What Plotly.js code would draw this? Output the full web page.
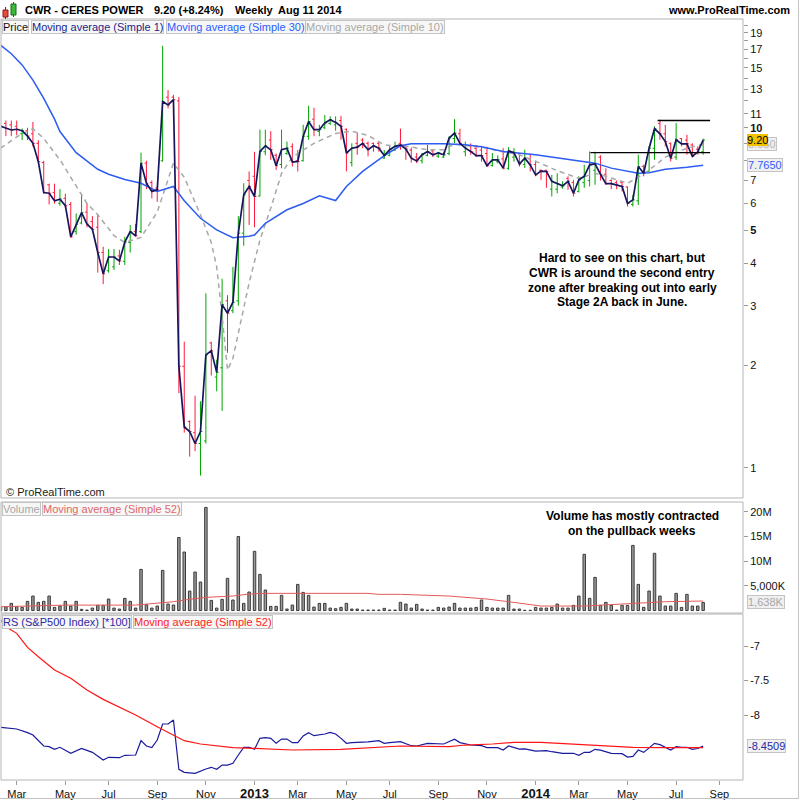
<!DOCTYPE html>
<html><head><meta charset="utf-8">
<script src="https://cdn.plot.ly/plotly-3.0.1.min.js"></script>
<style>html,body{margin:0;padding:0;background:#fff}#chart{width:800px;height:800px}</style>
</head><body><div id="chart"></div>
<script>
// ---- weekly bars, first week Mon 13 Feb 2012, last week Mon 11 Aug 2014 ----
const firstWeek = [2012, 1, 13];
const open = [10.2,10.3,10.2,10.1,9.6,9.8,9.6,9.0,7.9,6.8,
 6.45,6.0,6.2,5.95,4.95,5.25,5.65,5.3,5.1,4.3,
 3.8,3.9,4.2,4.05,4.6,4.95,4.95,7.87,6.9,6.65,
 8.0,12.3,12.3,12.0,1.99,1.37,1.27,1.18,1.2,2.33,
 1.85,1.97,3.1,2.9,3.1,4.9,7.0,7.2,6.3,8.5,
 9.2,8.3,7.8,8.4,8.8,8.0,8.0,9.44,10.6,9.75,
 10.0,10.3,10.2,10.5,9.9,7.9,9.0,9.2,9.0,9.0,
 9.0,8.15,8.3,8.6,9.0,8.8,8.6,8.2,8.0,8.3,
 8.55,8.25,8.2,8.4,9.3,9.6,8.5,8.85,8.7,8.6,
 8.4,7.75,7.95,8.1,7.6,8.2,8.4,7.8,8.1,7.8,
 7.5,7.5,6.6,6.6,6.7,7.1,6.9,6.5,6.9,7.0,
 7.5,8.2,7.3,7.0,6.9,6.9,6.7,5.95,6.1,7.7,
 7.45,8.7,10.3,9.6,9.0,8.2,9.3,9.2,8.9,8.65,
 8.5];
const high = [10.5,10.5,10.5,10.5,9.95,10.0,10.4,9.2,8.0,6.85,
 6.85,6.6,6.4,6.05,5.6,6.4,6.0,5.5,5.55,4.47,
 4.4,4.4,4.38,4.78,5.18,5.21,8.45,8.0,7.0,6.72,
 17.4,12.9,12.5,12.3,2.35,1.38,1.63,1.57,3.26,2.35,
 2.08,3.6,3.22,3.9,5.5,6.87,7.44,8.5,9.87,9.87,
 9.77,8.4,9.87,9.11,9.0,8.6,10.2,11.6,11.45,10.2,
 10.9,10.8,10.8,10.84,9.95,9.0,9.65,9.33,9.11,9.05,
 9.1,8.6,8.85,9.1,9.94,8.85,8.75,8.43,8.43,8.91,
 8.6,8.5,8.5,9.44,10.6,9.94,9.11,9.0,8.9,8.85,
 8.8,8.43,8.3,8.71,8.77,8.71,8.43,8.62,8.33,8.0,
 7.55,7.52,7.27,7.35,6.96,7.2,7.03,7.2,7.78,8.52,
 8.5,8.3,7.6,7.05,7.0,6.95,6.72,6.35,8.33,7.78,
 8.82,10.1,10.56,10.2,9.05,10.33,9.33,9.54,9.0,8.82,
 9.3];
const low = [9.9,9.45,9.45,9.5,9.2,9.2,8.8,7.85,6.4,5.95,
 5.98,5.9,5.8,4.75,4.85,5.2,5.1,4.95,3.75,3.47,
 3.75,3.82,3.95,3.95,4.3,4.78,4.9,6.6,6.2,6.06,
 7.95,11.4,10.6,1.66,1.27,1.08,1.12,0.95,1.18,1.87,
 1.68,1.47,2.18,2.85,3.0,4.5,5.18,5.1,6.28,8.3,
 8.05,7.52,7.6,8.33,7.69,7.44,7.96,9.22,9.44,9.44,
 9.9,10.2,9.8,9.22,7.44,7.69,8.33,8.71,8.24,8.5,
 8.5,8.1,8.25,8.55,8.62,8.05,7.9,7.87,7.85,8.25,
 8.2,8.15,8.15,8.3,9.0,8.91,8.24,8.33,8.2,7.95,
 7.69,7.69,7.85,7.55,7.52,7.95,7.69,7.61,7.44,7.2,
 7.03,6.66,6.28,6.42,6.62,6.57,6.28,6.45,6.66,6.72,
 6.8,7.0,6.8,6.6,6.6,6.5,5.87,5.87,5.93,7.2,
 7.44,8.05,9.22,8.82,7.96,8.05,8.82,8.33,8.2,8.33,
 8.33];
const close = [10.1,9.95,9.85,9.9,9.8,9.45,9.0,7.95,6.45,6.42,
 6.1,6.17,5.9,4.78,5.2,5.63,5.21,5.03,4.3,3.72,
 4.17,4.17,4.06,4.61,4.95,4.81,7.87,6.87,6.5,6.57,
 11.95,11.67,12.09,1.99,1.32,1.28,1.18,1.28,2.15,2.21,
 1.91,3.02,2.85,3.07,4.9,6.35,6.72,6.28,8.52,8.85,
 8.62,7.73,8.62,8.71,7.93,7.96,9.44,10.43,9.87,9.87,
 10.33,10.56,10.37,10.1,8.43,8.71,8.77,9.0,8.62,8.85,
 8.71,8.29,8.62,8.82,8.91,8.66,8.14,7.99,8.33,8.52,
 8.33,8.43,8.33,9.33,9.65,9.0,8.71,8.52,8.28,8.28,
 7.73,8.05,8.05,7.61,8.55,8.45,7.82,8.14,7.78,7.27,
 7.46,7.44,6.96,6.85,6.75,6.96,6.42,7.03,7.2,7.78,
 7.83,7.3,6.85,6.85,6.77,6.72,5.99,6.14,7.69,7.35,
 8.71,9.94,9.6,9.11,8.14,9.22,8.97,8.97,8.24,8.5,
 9.2];
// weekly volume, millions of shares
const volumeM = [0.8,0.78,1.45,0.78,0.64,1.86,2.94,1.66,1.86,2.94,
 0.64,0.91,1.86,0.91,1.86,0.24,0.1,0.5,1.05,1.05,
 2.33,0.5,0.3,2.47,1.86,0.5,8.34,1.18,0.5,0.91,
 8.14,1.32,1.11,14.8,11.86,3.95,7.8,5.78,20.9,2.06,
 0.5,2.26,6.52,2.13,15.0,1.45,3.75,12.0,7.33,4.16,
 0.84,0.84,3.07,0.3,1.11,5.3,3.68,3.07,0.71,1.45,
 1.45,0.5,0.37,0.64,1.45,0.3,0.3,0.1,0.1,0.1,
 0.1,0.44,0.1,0.1,1.66,1.32,0.5,1.25,0.3,0.1,
 0.1,0.64,0.5,0.71,1.45,0.5,0.5,0.5,0.64,2.13,
 0.64,0.5,0.5,0.5,3.07,0.3,0.3,0.05,0.05,0.64,
 0.5,0.5,0.64,1.32,0.5,0.5,1.05,2.94,11.4,2.47,
 6.72,1.05,1.66,1.05,0.1,1.05,1.05,13.2,5.3,0.64,
 3.95,11.6,2.94,0.91,0.91,3.48,0.64,3.28,0.91,0.91,
 1.638];
// moving averages (week index, value)
const ma30Idx = [0,2,4,6,8,10,11,14,18,20,23,26,29,32,34,37,40,43,46,47,49,53,56,59,62,64,67,71,74,76,82,86,89,93,99,105,110,113,118,120,123,127,130];
const ma30Val = [17.5,16.5,15.3,13.8,12.2,10.6,9.75,8.45,7.55,7.3,7.05,6.87,6.5,6.72,6.1,5.42,5.01,4.75,4.8,4.84,5.24,5.74,5.99,6.31,6.11,6.72,7.44,8.28,8.85,8.97,8.97,8.91,8.8,8.52,8.33,8.09,7.87,7.61,7.35,7.38,7.55,7.65,7.765];
const ma10Idx = [0,3,6,8,11,14,16,18,21,23,26,29,32,34,37,39,40,41,42,43,44,45,46,48,50,52,54,58,62,65,68,71,75,79,82,84,87,90,92,96,100,103,107,110,113,116,118,121,123,127,130];
const ma10Val = [8.71,9.4,9.94,9.3,8.05,6.72,5.99,5.55,4.82,4.6,4.76,5.65,7.87,7.15,5.55,4.6,3.9,2.8,1.94,2.1,2.49,3.0,3.5,4.68,5.8,7.35,8.2,9.0,9.62,9.77,9.5,8.9,8.82,8.62,8.62,8.95,8.85,8.72,8.55,8.33,7.85,7.48,7.1,7.35,7.12,6.87,7.15,7.72,8.2,8.71,8.95];
const volMaIdx = [0,6,12,25,29,32,34,37,38,43,46,49,68,70,74,83,86,90,94,100,108,112,117,123,130];
const volMaVal = [0.77,0.9,1.1,1.1,1.45,1.79,2.13,2.47,2.67,2.94,3.35,3.48,3.48,3.28,3.28,2.94,2.67,2.33,1.79,0.91,0.91,1.11,1.45,1.79,1.93];
// relative strength vs S&P500 (*100) and its 52-week average
const rsIdx = [0,3,5,6,8,9,10,11,13,15,17,19,20,22,23,25,26,27,28,29,30,31,32,33,34,35,36,38,39,40,41,42,43,44,45,46,47,48,49,50,51,52,53,54,55,56,57,58,59,60,61,62,63,64,65,66,68,70,71,72,74,76,77,79,82,84,85,87,89,90,92,93,94,96,97,99,101,102,104,106,107,108,109,110,111,113,115,116,117,118,119,121,122,124,125,126,127,128,129,130];
const rsVal = [-8.178,-8.203,-8.256,-8.29,-8.449,-8.459,-8.497,-8.468,-8.555,-8.483,-8.541,-8.652,-8.613,-8.619,-8.584,-8.58,-8.372,-8.449,-8.473,-8.362,-8.13,-8.13,-8.072,-8.787,-8.831,-8.84,-8.845,-8.783,-8.758,-8.787,-8.725,-8.725,-8.7,-8.58,-8.468,-8.468,-8.497,-8.338,-8.329,-8.338,-8.41,-8.348,-8.348,-8.401,-8.401,-8.304,-8.256,-8.3,-8.29,-8.275,-8.251,-8.275,-8.338,-8.41,-8.401,-8.401,-8.39,-8.372,-8.41,-8.4,-8.387,-8.445,-8.449,-8.41,-8.42,-8.352,-8.4,-8.435,-8.445,-8.473,-8.473,-8.507,-8.449,-8.493,-8.49,-8.522,-8.515,-8.532,-8.555,-8.555,-8.584,-8.541,-8.541,-8.497,-8.51,-8.555,-8.56,-8.609,-8.6,-8.507,-8.541,-8.41,-8.43,-8.507,-8.459,-8.468,-8.468,-8.497,-8.485,-8.4509];
const rsMaIdx = [0,1,3,5,7,10,13,16,19,22,25,29,32,34,37,40,43,47,51,54,63,68,74,83,86,91,95,100,105,111,117,123,130];
const rsMaVal = [-6.62,-6.72,-6.816,-7.019,-7.155,-7.348,-7.468,-7.638,-7.773,-7.889,-8.0,-8.169,-8.29,-8.372,-8.42,-8.449,-8.473,-8.483,-8.497,-8.507,-8.497,-8.473,-8.449,-8.459,-8.435,-8.42,-8.396,-8.396,-8.42,-8.449,-8.468,-8.473,-8.473];
// hand-drawn resistance lines
const resistLevel = [8.45, 10.5];
const resistStart = ['2014-03-18', '2014-06-13'];
const resistEnd = ['2014-08-20', '2014-08-20'];
// axis ticks
const monthTickDates = ['2012-03-05','2012-05-07','2012-07-02','2012-09-03','2012-11-05','2013-01-07','2013-03-04','2013-05-06','2013-07-01','2013-09-02','2013-11-04','2014-01-06','2014-03-03','2014-05-05','2014-07-07','2014-09-01'];
const monthTickText = ['Mar','May','Jul','Sep','Nov','<span style="font-size:13px;font-weight:bold">2013</span>','Mar','May','Jul','Sep','Nov','<span style="font-size:13px;font-weight:bold">2014</span>','Mar','May','Jul','Sep'];
const priceTicks = [1,2,3,4,5,6,7,8,9,10,11,12,13,14,15,16,17,18,19,20];
const priceTickText = ['1','2','3','4','<b>5</b>','6','7','','','<b>10</b>','11','','13','','15','','17','','19',''];
const volTicks = [5,10,15,20];
const volTickText = ['5,000K','10M','15M','20M'];
const rsTicks = [-8,-7.5,-7];
const rsTickText = ['-8','-7.5','-7'];

const weeks = close.map((_, k) => {
  const d = new Date(Date.UTC(firstWeek[0], firstWeek[1], firstWeek[2]));
  d.setUTCDate(d.getUTCDate() + 7 * k);
  return d.toISOString().slice(0, 10);
});
const at = idx => idx.map(k => weeks[k]);

const FONT = 'Liberation Sans, Arial, sans-serif';
const PX = x => (x - 1) / 742;
const PY = y => (780 - y) / 761;
const last = a => a[a.length - 1];

const traces = [
  {type:'ohlc', x:weeks, open:open, high:high, low:low, close:close, xaxis:'x', yaxis:'y3',
   increasing:{line:{color:'#00a400', width:1}}, decreasing:{line:{color:'#ff1a3c', width:1}},
   tickwidth:0.35, hoverinfo:'skip'},
  {type:'scatter', mode:'lines', x:at(ma10Idx), y:ma10Val, yaxis:'y3',
   line:{color:'#a8a8a8', width:1.5, dash:'5px,4px'}, hoverinfo:'skip'},
  {type:'scatter', mode:'lines', x:at(ma30Idx), y:ma30Val, yaxis:'y3',
   line:{color:'#2c5cf2', width:1.5}, hoverinfo:'skip'},
  {type:'scatter', mode:'lines', x:weeks, y:close, yaxis:'y3',
   line:{color:'#16165e', width:1.7}, hoverinfo:'skip'},
];
resistLevel.forEach((lv, i) => traces.push({type:'scatter', mode:'lines', x:[resistStart[i], resistEnd[i]], y:[lv, lv],
  yaxis:'y3', line:{color:'#000', width:1.4}, hoverinfo:'skip'}));
traces.push(
  {type:'bar', x:weeks, y:volumeM, yaxis:'y2', width:3.2*86400000,
   marker:{color:'#9c9c9c', line:{color:'#3a3a3a', width:1}}, hoverinfo:'skip'},
  {type:'scatter', mode:'lines', x:at(volMaIdx), y:volMaVal, yaxis:'y2',
   line:{color:'#e35a5a', width:1}, hoverinfo:'skip'},
  {type:'scatter', mode:'lines', x:at(rsIdx), y:rsVal, yaxis:'y',
   line:{color:'#1a1a9e', width:1.2}, hoverinfo:'skip'},
  {type:'scatter', mode:'lines', x:at(rsMaIdx), y:rsMaVal, yaxis:'y',
   line:{color:'#ff1515', width:1.2}, hoverinfo:'skip'}
);

function note(text, x, y, o) {
  return Object.assign({text:text, xref:'paper', yref:'paper', x:PX(x), y:PY(y), showarrow:false,
    xanchor:'left', yanchor:'middle', font:{family:FONT, size:11, color:'#111'}}, o || {});
}
function legendBox(text, x, y, color) {
  return note(text, x, y, {yanchor:'top', bgcolor:'#f7f7f7', bordercolor:'#c4c4c4', borderwidth:1, borderpad:0,
    font:{family:FONT, size:11, color:color}});
}
const boldFont = s => ({family:FONT, size:s, color:'#000'});
const volLabel = Math.round(last(volumeM) * 1000);
const volLabelText = Math.floor(volLabel / 1000) + ',' + String(volLabel % 1000).padStart(3, '0') + 'K';

const annotations = [
  note('<b>CWR - CERES POWER</b>', 23, 10, {font:boldFont(11)}),
  note('<b>' + last(close).toFixed(2) + ' (+8.24%)</b>', 152, 10, {font:boldFont(11)}),
  note('<b>Weekly</b>', 233, 10, {font:boldFont(11)}),
  note('<b>Aug 11 2014</b>', 276, 10, {font:boldFont(11)}),
  note('<b>www.ProRealTime.com</b>', 792, 10, {xanchor:'right', font:boldFont(11)}),
  legendBox('Price', 1.5, 20, '#111'),
  legendBox('Moving average (Simple 1)', 31, 20, '#1c1c8a'),
  legendBox('Moving average (Simple 30)', 166, 20, '#2a5cff'),
  legendBox('Moving average (Simple 10)', 305, 20, '#a8a8a8'),
  legendBox('Volume', 1.5, 502, '#a8a8a8'),
  legendBox('Moving average (Simple 52)', 41.5, 502, '#e06666'),
  legendBox('RS (S&amp;P500 Index) [*100]', 1.5, 615, '#2a2aa6'),
  legendBox('Moving average (Simple 52)', 132.5, 615, '#ff2020'),
  note('© ProRealTime.com', 4, 492, {font:{family:FONT, size:11, color:'#222'}}),
];
['Hard to see on this chart, but','CWR is around the second entry','zone after breaking out into early','Stage 2A back in June.']
  .forEach((t, k) => annotations.push(note('<b>' + t + '</b>', 622, 258 + 14.8 * k, {xanchor:'center', font:boldFont(12)})));
['Volume has mostly contracted','on the pullback weeks']
  .forEach((t, k) => annotations.push(note('<b>' + t + '</b>', 632, 516 + 14.5 * k, {xanchor:'center', font:boldFont(12)})));
// value labels on the right axis
const valueLabel = (text, yref, y, color, bg, border) => ({text:text, xref:'paper', x:PX(747), yref:yref, y:y,
  showarrow:false, xanchor:'left', yanchor:'middle', bgcolor:bg, bordercolor:border, borderwidth:border ? 1 : 0,
  borderpad:0, font:{family:FONT, size:11, color:color}});
annotations.push(
  valueLabel(last(ma10Val).toFixed(3), 'y3', Math.log10(last(ma10Val)), '#b8b8b8', '#efefef', '#c4c4c4'),
  valueLabel(last(close).toFixed(2), 'y3', Math.log10(last(close)), '#000', '#f2c200', null),
  valueLabel(last(ma30Val).toFixed(4), 'y3', Math.log10(last(ma30Val)), '#2a5cff', '#f0f0f0', '#c4c4c4'),
  valueLabel(volLabelText, 'y2', last(volumeM), '#a8a8a8', '#efefef', '#c4c4c4'),
  valueLabel(last(rsVal).toFixed(4), 'y', last(rsVal), '#2a2aa6', '#f0f0f0', '#c4c4c4')
);

const box = (y0, y1) => ({type:'rect', xref:'paper', yref:'paper', x0:0, x1:1, y0:y0, y1:y1,
  line:{color:'#b4b4b4', width:1}, fillcolor:'rgba(0,0,0,0)', layer:'above'});
const pr = (x0, y0, x1, y1, fill, line) => ({type:'rect', xref:'paper', yref:'paper', x0:PX(x0), x1:PX(x1), y0:PY(y0), y1:PY(y1),
  fillcolor:fill, line:{color:line, width:1}});
const pl = (x0, y0, x1, y1, color) => ({type:'line', xref:'paper', yref:'paper', x0:PX(x0), x1:PX(x1), y0:PY(y0), y1:PY(y1),
  line:{color:color, width:1}});
const shapes = [
  box(0.3706, 1), box(0.2194, 0.3653), box(0, 0.2181),
  pl(5.5, 7, 5.5, 19, '#8b1a1a'), pr(3, 10, 8, 17, '#e84c3d', '#8b1a1a'),
  pl(13.5, 2, 13.5, 17, '#1a6b1a'), pr(11, 4, 16, 15, '#3cb83c', '#1a6b1a'),
  pl(0, 798.5, 799, 798.5, '#c4c4c4'), pl(798.5, 0, 798.5, 798.5, '#c4c4c4')
];

const yCommon = {side:'right', anchor:'x', showgrid:false, zeroline:false, showline:false, ticks:'outside', ticklen:4,
  tickcolor:'#9a9a9a', tickfont:{family:FONT, size:11, color:'#111'}, fixedrange:true};

const layout = {
  width:800, height:800, margin:{l:1, r:57, t:19, b:20}, paper_bgcolor:'#fff', plot_bgcolor:'#fff',
  showlegend:false, bargap:0, font:{family:FONT},
  xaxis:{type:'date', range:['2012-02-13 15:51', '2014-10-01 14:24'], domain:[0, 1], anchor:'y',
    tickmode:'array', tickvals:monthTickDates, ticktext:monthTickText, ticks:'outside', ticklen:4, tickcolor:'#9a9a9a',
    tickfont:{family:FONT, size:11, color:'#111'}, showgrid:false, zeroline:false, showline:false,
    rangeslider:{visible:false}, fixedrange:true},
  yaxis:Object.assign({}, yCommon, {domain:[0, 0.2181], range:[-8.942, -6.536], tickmode:'array', tickvals:rsTicks, ticktext:rsTickText}),
  yaxis2:Object.assign({}, yCommon, {domain:[0.2194, 0.3653], range:[-0.507, 22.0], tickmode:'array', tickvals:volTicks, ticktext:volTickText}),
  yaxis3:Object.assign({}, yCommon, {domain:[0.3706, 1], type:'log', range:[-0.0882, 1.3197], tickmode:'array', tickvals:priceTicks, ticktext:priceTickText}),
  annotations:annotations, shapes:shapes
};

Plotly.newPlot('chart', traces, layout, {displayModeBar:false, staticPlot:true});
</script>
</body></html>
